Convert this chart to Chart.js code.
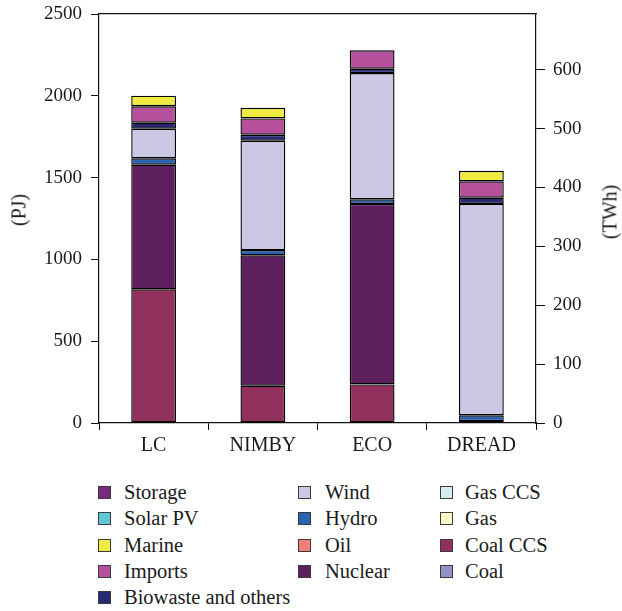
<!DOCTYPE html>
<html>
<head>
<meta charset="utf-8">
<script src="https://cdn.jsdelivr.net/npm/chart.js@4.4.1/dist/chart.umd.min.js"></script>
<style>
  body { margin: 0; background: #fff; }
  #wrap { position: relative; width: 622px; height: 611px; }
  #legend { position: absolute; left: 0; top: 479px; font-family: "Liberation Serif", "Times New Roman", serif; font-size: 20.5px; color: #1a1a1a; }
  .col { position: absolute; top: 0; }
  .item { height: 26.25px; line-height: 26.25px; white-space: nowrap; position: relative; }
  .sw { position: absolute; left: 0; top: 7px; width: 11px; height: 11px; border: 1px solid #3a3a3a; }
  .lbl { position: absolute; }
  .atitle { position: absolute; font-family: "Liberation Serif", "Times New Roman", serif; font-size: 20px; color: #1a1a1a;
            transform: translate(-50%, -50%) rotate(-90deg); white-space: nowrap; }
</style>
</head>
<body>
<div id="wrap">
  <canvas id="chart" width="622" height="465"></canvas>
  <div class="atitle" id="ltitle" style="left:19px; top:210px">(PJ)</div>
  <div class="atitle" id="rtitle" style="left:610px; top:212px">(TWh)</div>
  <div id="legend"></div>
</div>
<script>
// scenarios
const categories = ['LC', 'NIMBY', 'ECO', 'DREAD'];

// PJ per technology, bottom of stack first
const coal     = [0, 0, 0, 0];
const coalCCS  = [817, 228, 236, 0];
const gas      = [0, 0, 0, 12];
const gasCCS   = [0, 0, 0, 0];
const nuclear  = [762, 797, 1103, 0];
const oil      = [0, 0, 0, 0];
const hydro    = [39, 32, 28, 35];
const wind     = [181, 669, 772, 1292];
const biowaste = [37, 36, 27, 38];
const imports  = [100, 100, 112, 100];
const marine   = [65, 65, 0, 65];
const solarPV  = [0, 0, 0, 0];
const storage  = [0, 0, 0, 0];

const leftTicks = [0, 500, 1000, 1500, 2000, 2500];
const rightTicks = [0, 100, 200, 300, 400, 500, 600];
const PJ_PER_TWH = 3.6;

const series = [
  { label: 'Coal', data: coal, color: '#9391c6' },
  { label: 'Coal CCS', data: coalCCS, color: '#90305c' },
  { label: 'Gas', data: gas, color: '#fcf8c8' },
  { label: 'Gas CCS', data: gasCCS, color: '#d3eef2' },
  { label: 'Nuclear', data: nuclear, color: '#5e1f5f' },
  { label: 'Oil', data: oil, color: '#f47e7a' },
  { label: 'Hydro', data: hydro, color: '#2a63b1' },
  { label: 'Wind', data: wind, color: '#cbc8e4' },
  { label: 'Biowaste and others', data: biowaste, color: '#262872' },
  { label: 'Imports', data: imports, color: '#b4509c' },
  { label: 'Marine', data: marine, color: '#efeb40' },
  { label: 'Solar PV', data: solarPV, color: '#5ec8d8' },
  { label: 'Storage', data: storage, color: '#7a2a7c' }
];

const family = '"Liberation Serif", "Times New Roman", serif';
const ink = '#1a1a1a';

// keep chart area fixed: no extra room for half tick labels
const noOverflow = width => s => { s.width = width; s.paddingTop = 0; s.paddingBottom = 0; };

const chart = new Chart(document.getElementById('chart'), {
  type: 'bar',
  data: {
    labels: categories,
    datasets: series.map(s => ({
      label: s.label,
      data: s.data,
      backgroundColor: s.color,
      borderColor: '#000',
      borderWidth: ctx => ctx.raw ? 1.4 : 0,
      borderSkipped: false,
      barPercentage: 0.41,
      categoryPercentage: 1,
      xAxisID: 'x',
      yAxisID: 'y'
    }))
  },
  options: {
    responsive: false,
    animation: false,
    layout: { padding: { top: 14, left: 0, right: 0, bottom: 0 } },
    plugins: { legend: { display: false }, tooltip: { enabled: false } },
    scales: {
      x: {
        stacked: true,
        position: 'bottom',
        grid: { offset: true, drawOnChartArea: false, tickLength: 7, color: '#111' },
        border: { color: '#111', width: 1.2 },
        ticks: { font: { family: family, size: 20 }, color: ink, padding: 4 },
        afterFit: s => { s.height = 42; s.paddingLeft = 0; s.paddingRight = 0; }
      },
      xTop: {
        type: 'category',
        position: 'top',
        grid: { drawOnChartArea: false, drawTicks: false },
        border: { color: '#111', width: 1.2 },
        ticks: { display: false },
        afterFit: s => { s.height = 0; s.paddingLeft = 0; s.paddingRight = 0; }
      },
      y: {
        stacked: true,
        position: 'left',
        min: 0,
        max: 2500,
        afterBuildTicks: s => { s.ticks = leftTicks.map(v => ({ value: v })); },
        grid: { drawOnChartArea: false, tickLength: 8, color: '#111' },
        border: { color: '#111', width: 1.2 },
        ticks: { font: { family: family, size: 19 }, color: ink, padding: 9, callback: v => String(v) },
        afterFit: noOverflow(99)
      },
      y2: {
        position: 'right',
        min: 0,
        max: 2500 / PJ_PER_TWH,
        afterBuildTicks: s => { s.ticks = rightTicks.map(v => ({ value: v })); },
        grid: { drawOnChartArea: false, tickLength: 9, color: '#111' },
        border: { color: '#111', width: 1.2 },
        ticks: { font: { family: family, size: 19 }, color: ink, padding: 8, callback: v => String(v) },
        afterFit: noOverflow(86)
      }
    }
  }
});

// legend, laid out in columns like the original
const legendOrder = chart.data.datasets.slice().reverse();
const columns = [
  { items: legendOrder.slice(0, 5), swatch: 98, text: 124 },
  { items: legendOrder.slice(5, 9), swatch: 298, text: 325 },
  { items: legendOrder.slice(9, 13), swatch: 440, text: 465 }
];
const legend = document.getElementById('legend');
columns.forEach(c => {
  const col = document.createElement('div');
  col.className = 'col';
  col.style.left = c.swatch + 'px';
  c.items.forEach(ds => {
    const item = document.createElement('div');
    item.className = 'item';
    item.innerHTML = '<span class="sw" style="background:' + ds.backgroundColor + '"></span>' +
      '<span class="lbl" style="left:' + (c.text - c.swatch) + 'px">' + ds.label + '</span>';
    col.appendChild(item);
  });
  legend.appendChild(col);
});
</script>
</body>
</html>
